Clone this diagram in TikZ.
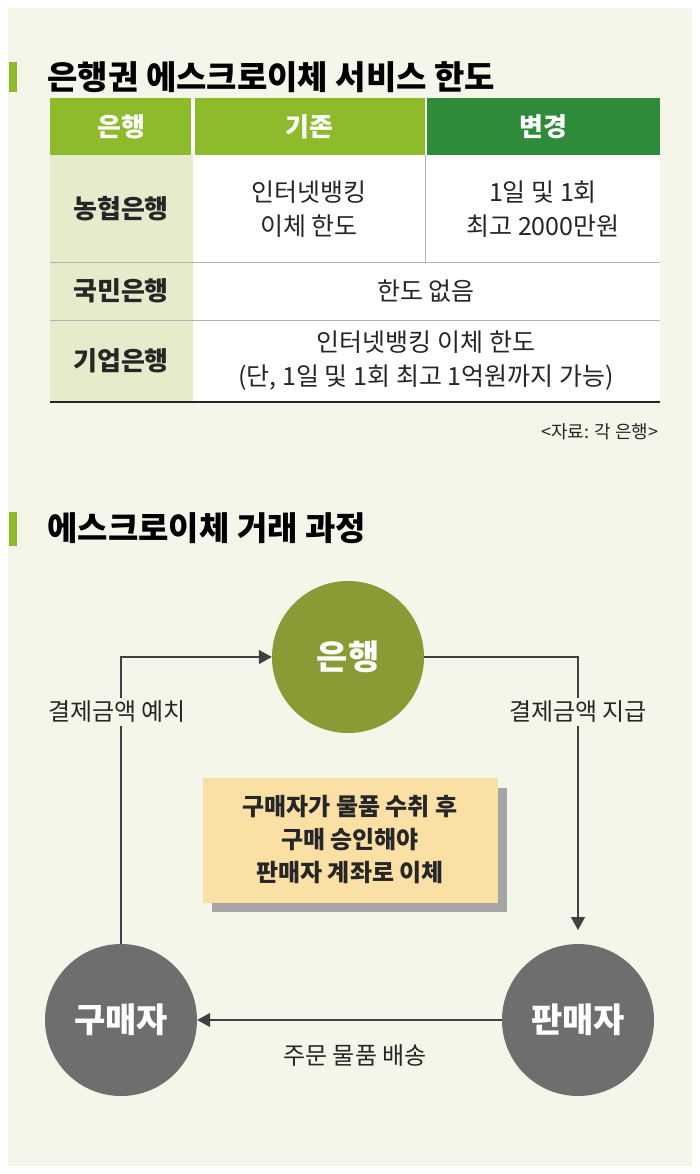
\documentclass[tikz,border=0pt]{standalone}
\usepackage{fontspec}
\setmainfont{Noto Sans CJK KR}
\usetikzlibrary{arrows.meta}
\definecolor{bg}{HTML}{F4F6EA}
\definecolor{lg}{HTML}{8DBB2B}
\definecolor{dg}{HTML}{2E8B3A}
\definecolor{pale}{HTML}{E5ECCB}
\definecolor{olive}{HTML}{8A9A35}
\definecolor{gr}{HTML}{6E6E6E}
\definecolor{note}{HTML}{FBE0A6}
\tikzset{
 hd/.style={font=\fontsize{26}{30}\selectfont\bfseries, text=white},
 rl/.style={font=\fontsize{26}{30}\selectfont\bfseries, text=black!85},
 cell/.style={font=\fontsize{25}{34}\selectfont, text=black!85, align=center},
 ttl/.style={font=\fontsize{33}{36}\selectfont\bfseries, anchor=west},
 circ/.style={circle, minimum size=152pt, inner sep=0pt, text=white, font=\fontsize{34}{36}\selectfont\bfseries},
 lab/.style={font=\fontsize{24}{28}\selectfont, text=black!85, fill=bg, inner sep=3pt},
 conn/.style={draw=black!75, line width=1.3pt, -{Triangle[length=13pt,width=14pt]}},
 sep/.style={draw=black!30, line width=0.8pt}
}
\begin{document}
\begin{tikzpicture}[x=1pt,y=-1pt]
\useasboundingbox (0,0) rectangle (700,1174);
\fill[white] (0,0) rectangle (700,1174);
\fill[bg] (8,8) rectangle (692,1166);
% title 1
\fill[lg] (9,62) rectangle (17,92);
\node[ttl] (t1) at (44,77) {은행권 에스크로이체 서비스 한도};
% table
\fill[dg] (427,98) rectangle (660,155);
\fill[white] (50,98) rectangle (425,155);
\fill[lg] (50,98) rectangle (191,155);
\fill[lg] (195,98) rectangle (425,155);
\fill[white] (50,155) rectangle (660,402);
\fill[pale] (50,155) rectangle (193,402);
\draw[sep] (50,262) -- (660,262);
\draw[sep] (50,320) -- (660,320);
\draw[sep] (425,155) -- (425,262);
\draw[black!85, line width=2pt] (50,402) -- (660,402);
\node[hd] (h1) at (121,127) {은행};
\node[hd] (h2) at (309,127) {기존};
\node[hd] (h3) at (543,127) {변경};
\node[rl] (r1) at (121,209) {농협은행};
\node[rl] (r2) at (121,291) {국민은행};
\node[rl] (r3) at (121,361) {기업은행};
\node[cell] (c11) at (309,209) {인터넷뱅킹\\이체 한도};
\node[cell] (c12) at (543,209) {1일 및 1회\\최고 2000만원};
\node[cell] (c2) at (426,291) {한도 없음};
\node[cell] (c3) at (426,361) {인터넷뱅킹 이체 한도\\(단, 1일 및 1회 최고 1억원까지 가능)};
\node[font=\fontsize{18}{20}\selectfont, anchor=east, text=black!85] (src) at (662,432) {<자료: 각 은행>};
% title 2
\fill[lg] (9,512) rectangle (17,546);
\node[ttl] (t2) at (44,528) {에스크로이체 거래 과정};
% diagram
\node[circ, fill=olive] (bank) at (348,657) {은행};
\node[circ, fill=gr] (buyer) at (121,1020) {구매자};
\node[circ, fill=gr] (seller) at (578,1020) {판매자};
\fill[black!35] (212,788) rectangle (507,912);
\fill[note] (203,778) rectangle (498,903);
\node[font=\fontsize{24}{33}\selectfont\bfseries, align=center, text=black!85] (note) at (350,840) {구매자가 물품 수취 후\\구매 승인해야\\판매자 계좌로 이체};
\coordinate (p1) at (121,657);
\coordinate (p2) at (578,657);
\coordinate (p3) at (578,930);
\draw[conn] (buyer.north) -- (p1) -- (bank.west);
\draw[conn] (bank.east) -- (p2) -- (p3);
\draw[conn] (seller.west) -- (buyer.east);
\node[lab] (l1) at (117,712) {결제금액 예치};
\node[lab] (l2) at (578,712) {결제금액 지급};
\node[font=\fontsize{24}{28}\selectfont, text=black!85] (l3) at (355,1055) {주문 물품 배송};
\end{tikzpicture}
\end{document}
